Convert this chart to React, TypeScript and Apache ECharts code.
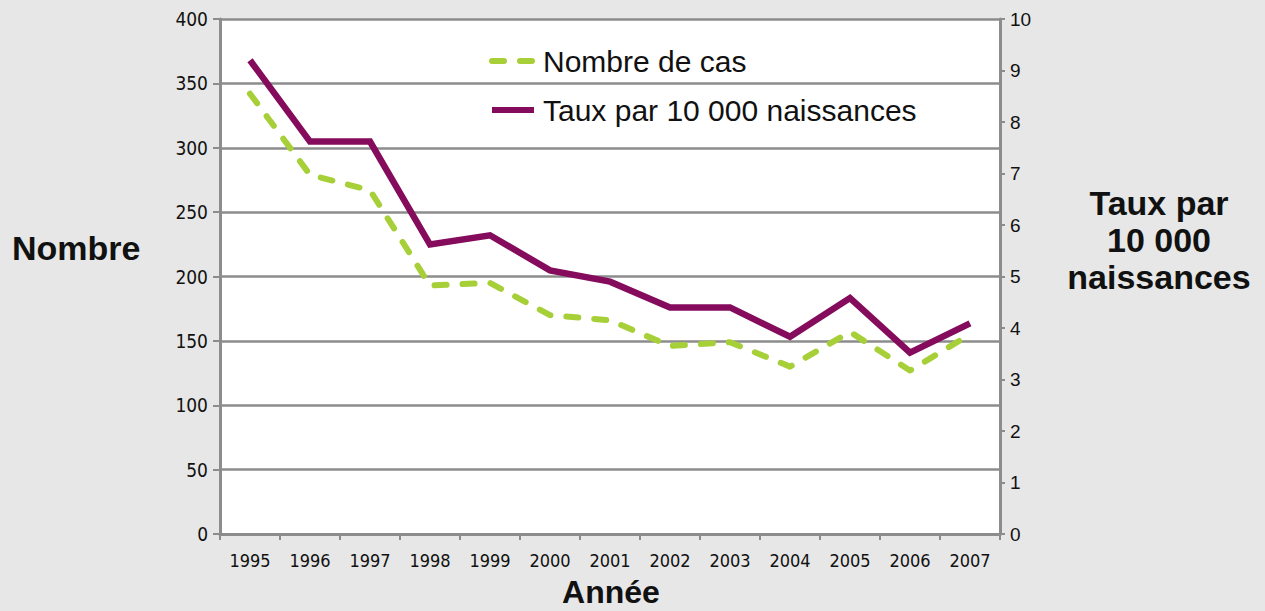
import React, { useEffect, useRef } from "react";
import * as echarts from "echarts";

const years = ["1995","1996","1997","1998","1999","2000","2001","2002","2003","2004","2005","2006","2007"];
const nombreDeCas = [342, 279, 267, 193, 195, 170, 166, 146, 149, 130, 157, 127, 155];
const tauxPar10000 = [9.2, 7.62, 7.62, 5.62, 5.8, 5.12, 4.9, 4.4, 4.4, 3.83, 4.58, 3.52, 4.09];
const seriesNames = ["Nombre de cas", "Taux par 10 000 naissances"];
const leftAxisName = "Nombre";
const rightAxisName = "Taux par\n10 000\nnaissances";
const xAxisName = "Année";

const GRAY = "#8c8c8c";
const NARROW = "'Liberation Sans Narrow', 'DejaVu Sans Condensed', 'Liberation Sans', sans-serif";
const SANS = "'Liberation Sans', Arial, Helvetica, sans-serif";

export default function App() {
  const ref = useRef<HTMLDivElement>(null);
  useEffect(() => {
    const chart = echarts.init(ref.current!, null, { renderer: "svg" });
    chart.setOption({
      animation: false,
      backgroundColor: "#e6e7e6",
      grid: {
        left: 220, right: 265, top: 19, bottom: 77,
        show: true, backgroundColor: "#ffffff", borderWidth: 0,
      },
      legend: {
        orient: "vertical",
        left: 484,
        top: 41,
        itemWidth: 42,
        itemHeight: 14,
        itemGap: 19,
        data: seriesNames,
        itemStyle: { opacity: 0 },
        lineStyle: { width: 6 },
        textStyle: { fontFamily: SANS, fontSize: 30, color: "#111", lineHeight: 30, padding: [0, 0, 0, 4] },
      },
      xAxis: {
        type: "category",
        data: years,
        boundaryGap: true,
        axisLine: { lineStyle: { color: GRAY, width: 3 } },
        axisTick: { show: true, length: 6, lineStyle: { color: GRAY, width: 2 } },
        axisLabel: { fontFamily: NARROW, fontSize: 18, color: "#111", margin: 17 },
      },
      yAxis: [
        {
          type: "value", min: 0, max: 400, interval: 50, position: "left",
          axisLine: { show: true, lineStyle: { color: GRAY, width: 3 } },
          axisTick: { show: true, length: 7, lineStyle: { color: GRAY, width: 2 } },
          axisLabel: { fontFamily: NARROW, fontSize: 19, color: "#111", margin: 12 },
          splitLine: { show: true, lineStyle: { color: GRAY, width: 2.5 } },
        },
        {
          type: "value", min: 0, max: 10, interval: 1, position: "right",
          axisLine: { show: true, lineStyle: { color: GRAY, width: 3 } },
          axisTick: { show: true, length: 5, lineStyle: { color: GRAY, width: 2 } },
          axisLabel: { fontFamily: SANS, fontSize: 19, color: "#111", margin: 10 },
          splitLine: { show: false },
        },
      ],
      series: [
        {
          name: seriesNames[0], type: "line", yAxisIndex: 0, data: nombreDeCas,
          symbol: "none", showSymbol: false, z: 3,
          itemStyle: { color: "#a7cf38" },
          lineStyle: { color: "#a7cf38", width: 6, type: [12, 16], cap: "round", join: "round" },
        },
        {
          name: seriesNames[1], type: "line", yAxisIndex: 1, data: tauxPar10000,
          symbol: "none", showSymbol: false, z: 4,
          itemStyle: { color: "#850b5d" },
          lineStyle: { color: "#850b5d", width: 6.5, join: "miter" },
        },
      ],
      graphic: [
        {
          type: "text", left: 12, top: 231,
          style: { text: leftAxisName, fontFamily: SANS, fontWeight: "bold", fontSize: 34, fill: "#111" },
        },
        {
          type: "text", x: 611, y: 592,
          style: { text: xAxisName, fontFamily: SANS, fontWeight: "bold", fontSize: 32, fill: "#111", align: "center", verticalAlign: "middle" },
        },
        {
          type: "text", x: 1159, y: 240,
          style: { text: rightAxisName, fontFamily: SANS, fontWeight: "bold", fontSize: 34, lineHeight: 37, fill: "#111", align: "center", verticalAlign: "middle" },
        },
      ],
    });
    return () => chart.dispose();
  }, []);
  return (
    <div style={{ position: "fixed", left: 0, top: 0, width: 1265, height: 611, background: "#e6e7e6" }}>
      <div ref={ref} style={{ width: 1265, height: 611 }} />
    </div>
  );
}
